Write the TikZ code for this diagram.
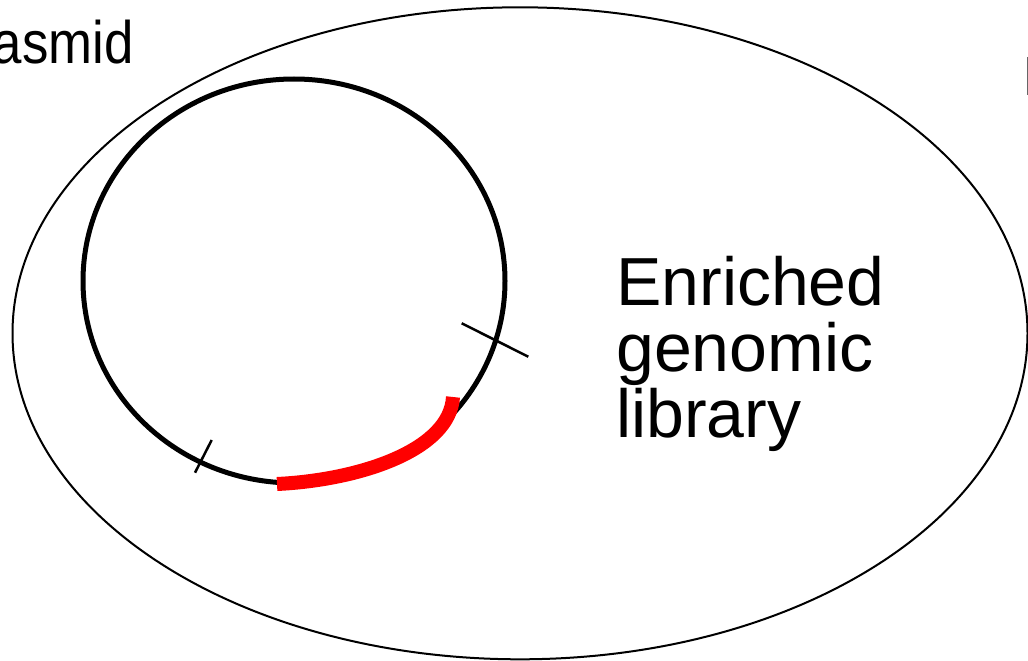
\documentclass[tikz,border=0pt]{standalone}
\usepackage{fontspec}
\setmainfont{Liberation Sans}
\begin{document}
\begin{tikzpicture}[x=1pt,y=-1pt,
  outline/.style={draw=black,line width=2pt},
  plasmidring/.style={draw=black,line width=5pt},
  insert/.style={draw=red,line width=14pt},
  cutsite/.style={draw=black,line width=2.5pt},
  bigtext/.style={inner sep=0pt,font=\fontsize{68}{66}\selectfont,align=left},
  labeltext/.style={inner sep=0pt,font=\fontsize{60}{66}\selectfont}]
\useasboundingbox (0,0) rectangle (1028,661);
\coordinate (cell) at (520,333.3);
\coordinate (plas) at (294,281);
\draw[outline] (cell) ellipse [x radius=507.5, y radius=326];
\draw[plasmidring] (plas) ellipse [x radius=211, y radius=202];
\coordinate (rs) at (277,484);
\coordinate (re) at (453,397);
\draw[insert] (rs) .. controls (360,480) and (450,450) .. (re);
\coordinate (t1a) at (461.7,323.3);
\coordinate (t1b) at (528.3,356.7);
\coordinate (t2a) at (211.7,440);
\coordinate (t2b) at (195,472.7);
\draw[cutsite] (t1a) -- (t1b);
\draw[cutsite] (t2a) -- (t2b);
\node[labeltext,anchor=base east] (lab) at (134,63.3) {\scalebox{0.88}[1]{Plasmid}};
\node[bigtext,anchor=base west] (lib) at (616,437) {Enriched\\genomic\\library};
\coordinate (pa) at (1027.3,57);
\coordinate (pb) at (1027.3,95);
\draw[black!60,line width=1.5pt] (pa) -- (pb);
\end{tikzpicture}
\end{document}
